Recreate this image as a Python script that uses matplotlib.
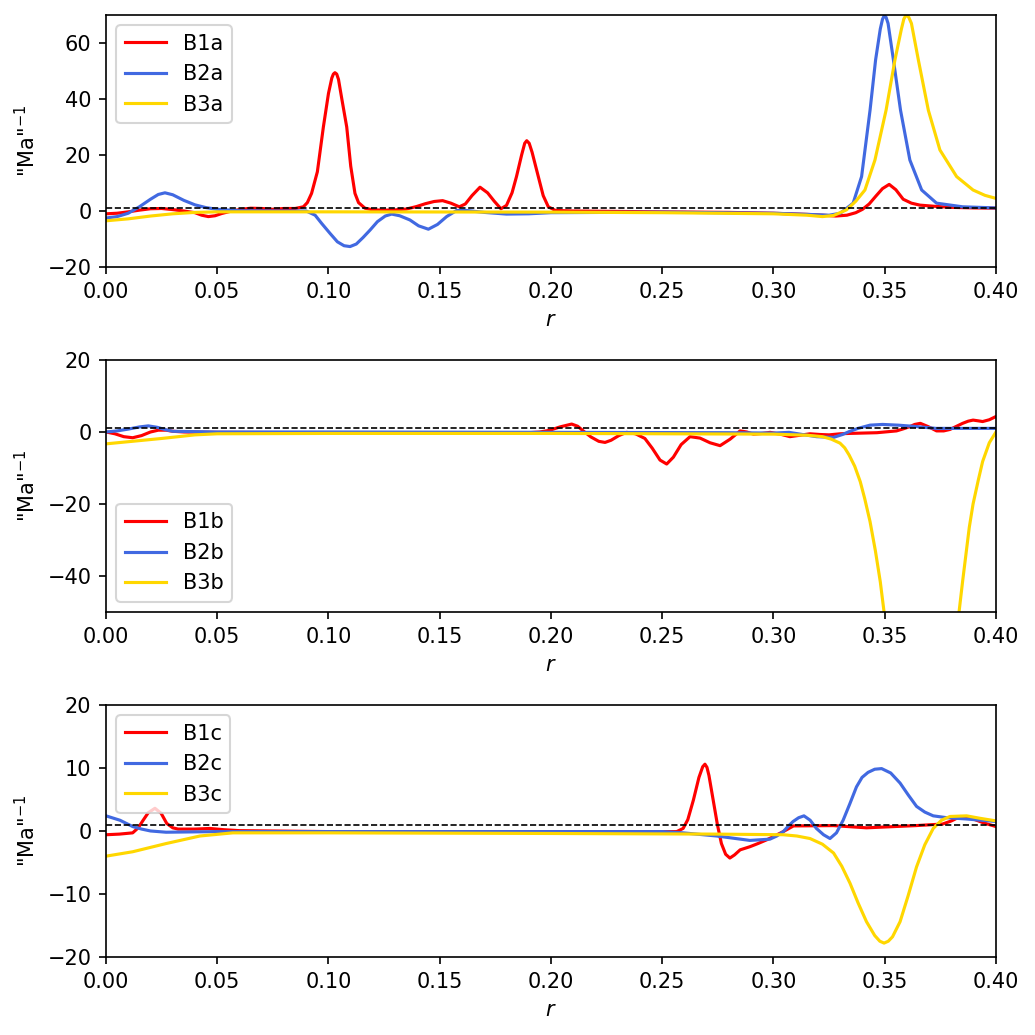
import numpy as np
import matplotlib.pyplot as plt

# values (r, value)
r_b1a = [0.0, 0.005, 0.01, 0.015, 0.02, 0.025, 0.03, 0.035, 0.04, 0.043, 0.046, 0.049, 0.052,
         0.056, 0.06, 0.065, 0.07, 0.075, 0.08, 0.085, 0.0887, 0.0905, 0.0924, 0.095, 0.0977,
         0.1, 0.1015, 0.1022, 0.1029, 0.1037, 0.1045, 0.106, 0.1082, 0.11, 0.1119, 0.1135, 0.1164,
         0.12, 0.125, 0.13, 0.135, 0.1396, 0.1435, 0.1475, 0.1513, 0.155, 0.1588, 0.1615, 0.1645,
         0.1681, 0.1715, 0.1745, 0.1775, 0.18, 0.1825, 0.1845, 0.1868, 0.1882, 0.1891, 0.1902,
         0.1915, 0.1943, 0.1965, 0.1988, 0.202, 0.21, 0.25, 0.28, 0.3, 0.315, 0.322, 0.328,
         0.333, 0.337, 0.34, 0.343, 0.346, 0.349, 0.352, 0.355, 0.3583, 0.362, 0.3658, 0.372,
         0.38, 0.39, 0.4]
v_b1a = [-1.0, -0.8, -0.3, 0.3, 0.8, 0.9, 0.5, 0.0, -0.6, -1.5, -2.0, -1.7, -0.9,
         -0.1, 0.5, 1.0, 0.9, 0.6, 0.9, 0.9, 1.5, 3.0, 6.3, 14.0, 30.0,
         42.0, 47.5, 48.9, 49.4, 48.9, 47.0, 40.0, 30.0, 16.0, 6.3, 3.0, 1.0,
         0.4, 0.3, 0.4, 0.7, 1.6, 2.6, 3.4, 3.7, 2.8, 1.5, 2.5, 5.5,
         8.5, 6.5, 3.5, 0.8, 2.0, 6.5, 12.3, 20.0, 24.2, 25.1, 24.2,
         21.0, 12.3, 5.5, 1.5, 0.2, 0.0, -0.3, -0.5, -0.8, -1.2, -1.5, -1.8,
         -1.5, -0.6, 0.6, 2.5, 5.3, 8.0, 9.5, 7.6, 4.2, 2.8, 2.1, 1.7,
         1.3, 1.1, 1.0]

r_b2a = [0.0, 0.005, 0.01, 0.015, 0.02, 0.0235, 0.0265, 0.03, 0.035, 0.04, 0.045, 0.05, 0.06,
         0.08, 0.09, 0.094, 0.097, 0.1007, 0.104, 0.107, 0.1097, 0.1125, 0.1155, 0.1187, 0.122,
         0.1255, 0.1284, 0.132, 0.1366, 0.1405, 0.1449, 0.149, 0.1531, 0.1576, 0.162, 0.17,
         0.18, 0.19, 0.2, 0.25, 0.3, 0.315, 0.325, 0.33, 0.3358, 0.3396, 0.3434, 0.3459, 0.348,
         0.349, 0.3498, 0.3506, 0.3515, 0.3539, 0.3571, 0.3613, 0.3666, 0.3733, 0.385, 0.4]
v_b2a = [-2.5, -2.0, -0.8, 1.5, 4.2, 5.9, 6.5, 5.8, 3.8, 2.2, 1.2, 0.6, 0.1,
         0.0, 0.0, -1.5, -4.5, -8.0, -11.0, -12.4, -12.7, -11.8, -9.5, -6.8, -3.8,
         -1.8, -1.1, -1.7, -3.2, -5.3, -6.5, -4.8, -2.0, 0.2, 0.2, -0.5,
         -1.1, -1.0, -0.6, -0.4, -0.8, -1.2, -1.5, -0.8, 2.8, 12.3, 36.0, 54.0, 65.0,
         68.5, 69.8, 69.2, 67.0, 54.0, 36.0, 18.2, 7.5, 2.8, 1.5, 1.1]

r_b3a = [0.0, 0.01, 0.02, 0.03, 0.04, 0.05, 0.1, 0.2, 0.25, 0.3, 0.315, 0.322, 0.327, 0.3328,
         0.337, 0.3411, 0.3456, 0.3506, 0.3546, 0.3575, 0.3586, 0.3596, 0.3608, 0.362, 0.3651,
         0.3696, 0.3748, 0.3823, 0.3897, 0.395, 0.4]
v_b3a = [-3.5, -2.8, -1.8, -1.0, -0.5, -0.3, -0.3, -0.4, -0.6, -1.0, -1.5, -2.0, -1.6, 0.4,
         3.5, 7.5, 18.2, 36.0, 54.0, 65.0, 68.6, 70.0, 69.2, 67.0, 54.0,
         36.0, 21.8, 12.3, 7.5, 5.6, 4.5]

r_b1b = [0.0, 0.004, 0.008, 0.012, 0.016, 0.02, 0.0235, 0.027, 0.03, 0.035, 0.05, 0.1, 0.15,
         0.19, 0.195, 0.1996, 0.204, 0.2093, 0.212, 0.2145, 0.218, 0.2215, 0.2243, 0.227,
         0.2305, 0.234, 0.238, 0.2422, 0.2455, 0.249, 0.252, 0.255, 0.2585, 0.2625, 0.267,
         0.2715, 0.276, 0.2805, 0.285, 0.288, 0.291, 0.295, 0.2985, 0.303, 0.3074, 0.312,
         0.3164, 0.321, 0.325, 0.33, 0.334, 0.3465, 0.3553, 0.3585, 0.3613, 0.3635, 0.366,
         0.3695, 0.3733, 0.3765, 0.3793, 0.382, 0.385, 0.3875, 0.3897, 0.392, 0.394, 0.397, 0.4]
v_b1b = [0.0, -0.5, -1.3, -1.6, -1.0, 0.0, 0.5, 0.5, 0.2, 0.0, -0.1, -0.2, -0.2,
         -0.2, 0.0, 0.5, 1.4, 2.2, 1.6, 0.3, -1.4, -2.6, -2.9, -2.3,
         -1.0, -0.1, -0.5, -1.8, -4.5, -7.8, -8.9, -7.0, -3.5, -1.3, -1.7,
         -3.0, -3.8, -2.0, 0.3, 0.0, -0.6, -0.4, -0.1, -0.6, -1.3, -0.9,
         -0.5, -0.7, -0.8, -0.5, -0.4, -0.2, 0.3, 0.9, 1.5, 2.1, 2.4,
         1.5, 0.3, 0.3, 0.7, 1.5, 2.4, 3.0, 3.3, 3.1, 2.9, 3.4, 4.3]

r_b2b = [0.0, 0.005, 0.01, 0.015, 0.019, 0.023, 0.027, 0.03, 0.05, 0.1, 0.2, 0.28, 0.3, 0.307,
         0.313, 0.3194, 0.327, 0.331, 0.334, 0.338, 0.3434, 0.349, 0.356, 0.3644, 0.373, 0.38,
         0.4]
v_b2b = [0.0, 0.3, 0.8, 1.4, 1.7, 1.3, 0.6, 0.2, 0.0, 0.0, -0.1, -0.2, -0.3, -0.1,
         -0.7, -1.3, -1.5, -0.7, 0.1, 1.0, 1.9, 2.1, 1.9, 1.5, 1.0, 1.0,
         1.0]

r_b3b = [0.0, 0.01, 0.025, 0.04, 0.05, 0.1, 0.2, 0.3, 0.31, 0.315, 0.322, 0.326, 0.3299, 0.332,
         0.334, 0.3365, 0.339, 0.341, 0.3434, 0.3458, 0.348, 0.3497, 0.352, 0.366, 0.381,
         0.3834, 0.385, 0.3865, 0.388, 0.3897, 0.392, 0.394, 0.397, 0.4]
v_b3b = [-3.3, -2.7, -1.8, -0.8, -0.5, -0.4, -0.4, -0.6, -0.8, -0.9, -1.3, -2.0, -3.1, -4.4,
         -6.4, -9.5, -13.8, -18.5, -24.9, -33.0, -41.6, -50.0, -60.0, -110.0, -62.0,
         -50.0, -41.5, -34.0, -26.5, -20.0, -13.5, -8.2, -3.0, 0.0]

r_b1c = [0.0, 0.006, 0.012, 0.0145, 0.0167, 0.019, 0.022, 0.0248, 0.0273, 0.03, 0.0324, 0.04,
         0.0467, 0.053, 0.06, 0.1, 0.25, 0.2565, 0.2594, 0.2615, 0.264, 0.2665, 0.2682, 0.2692,
         0.2701, 0.271, 0.2729, 0.2748, 0.2766, 0.2785, 0.2804, 0.2825, 0.285, 0.2894, 0.293,
         0.297, 0.3005, 0.3044, 0.309, 0.327, 0.3418, 0.364, 0.376, 0.38, 0.384, 0.3883, 0.3943,
         0.4]
v_b1c = [-0.6, -0.5, -0.3, 0.5, 1.7, 2.9, 3.6, 2.8, 1.2, 0.5, 0.3, 0.3,
         0.4, 0.2, 0.05, -0.1, -0.1, -0.1, 0.4, 1.8, 4.9, 8.5, 10.2, 10.6,
         10.1, 8.8, 4.9, 1.0, -2.0, -3.7, -4.3, -3.8, -3.0, -2.5, -2.0,
         -1.4, -0.8, -0.1, 0.8, 0.85, 0.5, 0.85, 1.1, 1.6, 2.3, 2.1, 1.3,
         0.7]

r_b2c = [0.0, 0.0063, 0.012, 0.016, 0.02, 0.027, 0.05, 0.25, 0.2594, 0.2745, 0.2894, 0.2984,
         0.3015, 0.3044, 0.3065, 0.3088, 0.3113, 0.3137, 0.3165, 0.3193, 0.3225, 0.3254,
         0.3283, 0.3313, 0.3343, 0.3373, 0.3398, 0.3425, 0.3455, 0.3486, 0.3527, 0.3569,
         0.3606, 0.3643, 0.368, 0.3718, 0.378, 0.3868, 0.4]
v_b2c = [2.4, 1.7, 0.7, 0.3, 0.0, -0.2, -0.1, -0.1, -0.3, -0.8, -1.5, -1.3,
         -0.8, -0.1, 0.7, 1.5, 2.1, 2.4, 1.7, 0.4, -0.6, -1.2,
         -0.3, 1.7, 4.3, 7.0, 8.5, 9.3, 9.8, 9.9, 9.2, 7.6,
         5.7, 3.9, 3.0, 2.4, 2.1, 1.9, 1.5]

r_b3c = [0.0, 0.012, 0.027, 0.0422, 0.057, 0.1, 0.2, 0.2745, 0.3044, 0.3105, 0.3164, 0.322,
         0.327, 0.3307, 0.3344, 0.338, 0.3418, 0.3455, 0.3478, 0.3497, 0.3516, 0.3535, 0.3569,
         0.3605, 0.3643, 0.368, 0.3718, 0.3755, 0.3793, 0.3868, 0.393, 0.4]
v_b3c = [-4.0, -3.3, -2.0, -0.8, -0.3, -0.3, -0.4, -0.5, -0.6, -0.8, -1.2, -2.1,
         -3.5, -5.6, -8.3, -11.4, -14.4, -16.6, -17.5, -17.8, -17.5, -16.8, -14.4,
         -10.3, -5.7, -2.2, 0.4, 1.7, 2.3, 2.4, 2.0, 1.6]

colors = ["red", "royalblue", "gold"]
panels = [
    (["B1a", "B2a", "B3a"], [(r_b1a, v_b1a), (r_b2a, v_b2a), (r_b3a, v_b3a)], (-20, 70), "upper left"),
    (["B1b", "B2b", "B3b"], [(r_b1b, v_b1b), (r_b2b, v_b2b), (r_b3b, v_b3b)], (-50, 20), "lower left"),
    (["B1c", "B2c", "B3c"], [(r_b1c, v_b1c), (r_b2c, v_b2c), (r_b3c, v_b3c)], (-20, 20), "upper left"),
]

fig, axes = plt.subplots(3, 1, figsize=(6.9, 6.9), dpi=150)
fig.subplots_adjust(left=0.1024, right=0.9623, top=0.9855, bottom=0.0754, hspace=0.369)

for ax, (names, series, ylim, loc) in zip(axes, panels):
    for name, (r, v), c in zip(names, series, colors):
        ax.plot(r, v, color=c, lw=1.5, label=name)
    ax.axhline(1.0, color="k", ls="--", lw=0.8)
    ax.set_xlim(0, 0.4)
    ax.set_ylim(*ylim)
    ax.set_xlabel(r"$r$")
    ax.set_ylabel(r'"Ma"$^{-1}$')
    ax.legend(loc=loc)

fig.savefig("out.png", dpi=150)
